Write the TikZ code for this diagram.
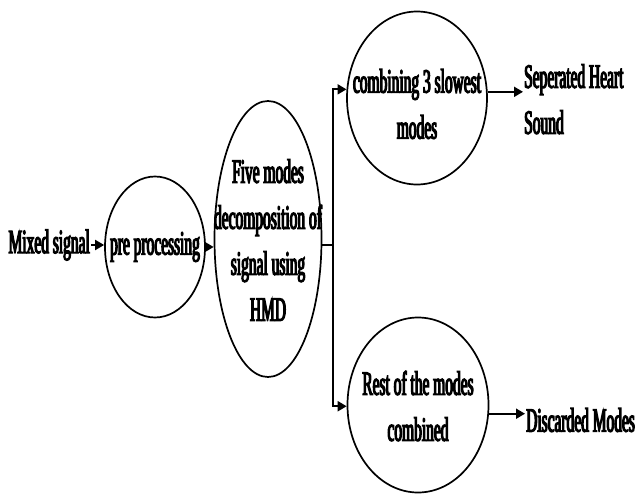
\documentclass[tikz,border=0pt]{standalone}
\usepackage{fontspec}
\setmainfont{Liberation Serif}[FakeStretch=0.455,FakeBold=3.5]
\usepackage{tikz}
\usetikzlibrary{arrows.meta,shapes.geometric}
\tikzset{
    stage-ellipse/.style = {draw, ellipse, line width=1.7pt, inner sep=0pt},
    stage-text/.style = {inner sep=0pt, align=center},
    plain-label/.style = {inner sep=1pt, align=left},
    flow-arrow/.style = {line width=2pt, -{Triangle[length=9pt,width=10pt]}},
}

\begin{document}
\begin{tikzpicture}[x=1pt,y=-1pt,font=\fontsize{34}{46}\selectfont]
\useasboundingbox (0,0) rectangle (637,495);
\node [plain-label, anchor=east] (mixed) at (91,245) {Mixed signal};
\node [stage-ellipse, minimum width=100pt, minimum height=141pt] (pre) at (155,247) {};
\node [stage-text] at (pre) {pre processing};
\node [stage-ellipse, minimum width=107pt, minimum height=276pt] (five) at (268,239) {};
\node [stage-text] at (268,240) {Five modes\\decomposition of\\signal using\\HMD};
\node [stage-ellipse, minimum width=140pt, minimum height=173pt] (comb) at (417,98) {};
\node [stage-text] at (417,104) {combining 3 slowest\\modes};
\node [stage-ellipse, minimum width=141pt, minimum height=175pt] (rest) at (418,405) {};
\node [stage-text] at (418,406) {Rest of the modes\\combined};
\node [plain-label, anchor=north west] (heart) at (523,63) {Seperated Heart\\Sound};
\node [plain-label, anchor=west] (disc) at (525,420) {Discarded Modes};
\coordinate (split) at (333,245);

\draw [flow-arrow] (mixed.east) -- (mixed.east -| pre.west);
\draw [flow-arrow] (pre.east) -- (pre.east -| five.west);
\draw [line width=2pt] (five.east |- split) -- (split);
\draw [flow-arrow] (split) |- (comb.173);
\draw [flow-arrow] (split) |- (rest.181);
\draw [flow-arrow] (comb.5) -- (comb.5 -| heart.west);
\draw [flow-arrow] (rest.-7) -- (rest.-7 -| disc.west);
\end{tikzpicture}
\end{document}
